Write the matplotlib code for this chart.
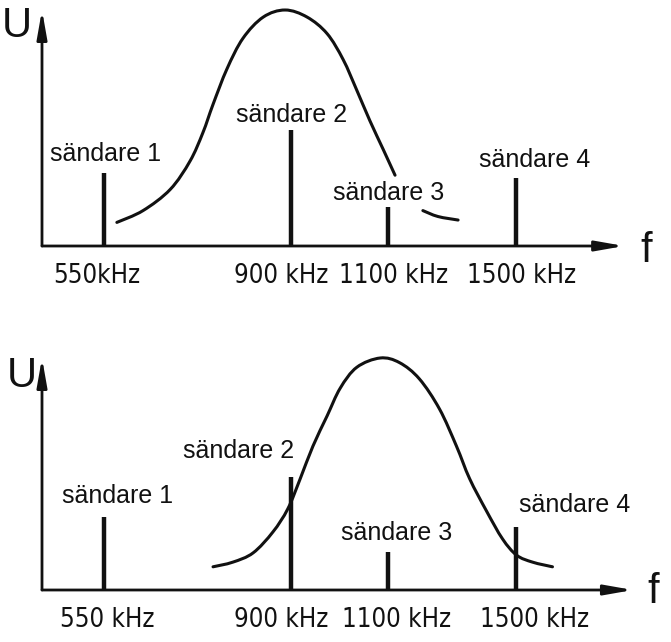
import numpy as np
import matplotlib
matplotlib.use("Agg")
import matplotlib.pyplot as plt
from matplotlib import font_manager
from matplotlib.path import Path
from matplotlib.patches import PathPatch

# ---------------- data ----------------
station_khz = [550, 900, 1100, 1500]
station_names = ["sändare 1", "sändare 2", "sändare 3", "sändare 4"]
tick_labels_top = ["550kHz", "900 kHz", "1100 kHz", "1500 kHz"]
tick_labels_bottom = ["550 kHz", "900 kHz", "1100 kHz", "1500 kHz"]

top_levels = [0.31, 0.49, 0.165, 0.29]
bottom_levels = [0.315, 0.485, 0.165, 0.27]

# receiver resonance curve, top panel (drawn in two pieces, gap at "sändare 3")
top_curve_a_khz = [575, 624, 675, 712, 736, 755, 781, 811, 849, 890, 934, 975, 1008, 1036, 1063, 1090, 1122]
top_curve_a_amp = [0.10, 0.15, 0.24, 0.36, 0.48, 0.60, 0.75, 0.88, 0.97, 1.00, 0.97, 0.90, 0.79, 0.66, 0.53, 0.41, 0.30]
top_curve_b_khz = [1209, 1256, 1319]
top_curve_b_amp = [0.15, 0.125, 0.11]

# receiver resonance curve, bottom panel
bottom_curve_khz = [755, 792, 830, 867, 895, 920, 946, 975, 1002, 1036, 1084,
                    1136, 1198, 1261, 1314, 1355, 1408, 1458, 1502, 1552, 1614]
bottom_curve_amp = [0.10, 0.12, 0.16, 0.25, 0.35, 0.48, 0.62, 0.75, 0.87, 0.96, 1.00,
                    0.98, 0.91, 0.78, 0.62, 0.48, 0.34, 0.22, 0.15, 0.12, 0.10]

# ---------------- layout / style ----------------
W, H = 671, 642
INK = "#111111"
fig = plt.figure(figsize=(W / 100, H / 100), dpi=100)
fig.patch.set_facecolor("white")

entries = font_manager.fontManager.ttflist
avail = {f.name for f in entries}
FONT = "Liberation Sans" if "Liberation Sans" in avail else "DejaVu Sans"
if "Liberation Sans Narrow" in avail:
    TICK_FONT = dict(family="Liberation Sans Narrow", fontsize=21)
elif any(f.name == "DejaVu Sans" and str(f.stretch) in ("condensed", "semi-condensed", "75", "87")
         for f in entries):
    TICK_FONT = dict(family="DejaVu Sans", fontstretch="condensed", fontsize=18.5)
else:
    TICK_FONT = dict(family=FONT, fontsize=19)

# schematic (non-linear) frequency axis: piecewise-linear scale
anchor_pos = [103.5, 290.5, 388.0, 516.0]


def piecewise(xp, fp):
    xp = np.asarray(xp, float)
    fp = np.asarray(fp, float)
    sl = (fp[1] - fp[0]) / (xp[1] - xp[0])
    sr = (fp[-1] - fp[-2]) / (xp[-1] - xp[-2])

    def f(x):
        x = np.asarray(x, float)
        y = np.interp(x, xp, fp)
        y = np.where(x < xp[0], fp[0] + (x - xp[0]) * sl, y)
        y = np.where(x > xp[-1], fp[-1] + (x - xp[-1]) * sr, y)
        return y
    return f


fwd = piecewise(station_khz, anchor_pos)
inv = piecewise(anchor_pos, station_khz)


def smooth_path(khz, amp):
    """Smooth Bezier path through the read points (Catmull-Rom control points)."""
    P = np.column_stack([fwd(np.asarray(khz, float)), np.asarray(amp, float)])
    n = len(P)
    verts = [P[0]]
    codes = [Path.MOVETO]
    for i in range(n - 1):
        p0 = P[i - 1] if i > 0 else P[i]
        p1, p2 = P[i], P[i + 1]
        p3 = P[i + 2] if i + 2 < n else P[i + 1]
        verts += [p1 + (p2 - p0) / 6.0, p2 - (p3 - p1) / 6.0, p2]
        codes += [Path.CURVE4] * 3
    verts = np.array(verts)
    verts[:, 0] = inv(verts[:, 0])
    return Path(verts, codes)


def px_axes(left, top, right, bottom):
    return fig.add_axes([left / W, 1 - bottom / H, (right - left) / W, (bottom - top) / H])


def draw_panel(ax, levels, curves, ticks, label_offsets, tick_offsets, x_arrow_end):
    ax.set_xscale("function", functions=(fwd, inv))
    ax.set_xlim(float(inv(42.0)), float(inv(630.0)))
    ax.set_ylim(0, 1)
    ax.axis("off")

    # axes with arrows
    ap = dict(arrowstyle="-|>,head_length=1.7,head_width=0.3", lw=2.0,
              color=INK, shrinkA=0, shrinkB=0)
    ax.annotate("", xy=(0, 1.0), xytext=(0, 0), xycoords="axes fraction", arrowprops=ap)
    ax.annotate("", xy=(x_arrow_end, 0), xytext=(0, 0), xycoords="axes fraction", arrowprops=ap)

    # station carriers
    ax.vlines(station_khz, 0, levels, colors=INK, lw=3.2)

    # resonance curve
    for cx, cy in curves:
        ax.add_patch(PathPatch(smooth_path(cx, cy), fill=False, edgecolor=INK, lw=2.2,
                               capstyle="round", joinstyle="round", clip_on=False))

    for khz, lvl, name, (dx, dy) in zip(station_khz, levels, station_names, label_offsets):
        ax.annotate(name, xy=(khz, lvl), xytext=(dx, dy), textcoords="offset pixels",
                    ha="center", va="baseline", fontsize=18, family=FONT, color=INK)

    for khz, lbl, dx in zip(station_khz, ticks, tick_offsets):
        ax.annotate(lbl, xy=(khz, 0), xytext=(dx, -37), textcoords="offset pixels",
                    ha="center", va="baseline", color=INK, **TICK_FONT)


ax_top = px_axes(42, 10, 630, 246)
draw_panel(ax_top, top_levels,
           [(top_curve_a_khz, top_curve_a_amp), (top_curve_b_khz, top_curve_b_amp)],
           tick_labels_top,
           [(2.5, 12), (1.5, 8), (1, 7), (19, 11)],
           [-6.5, -9.5, 6, 6], 0.99)

ax_bot = px_axes(42, 358, 630, 590)
draw_panel(ax_bot, bottom_levels,
           [(bottom_curve_khz, bottom_curve_amp)],
           tick_labels_bottom,
           [(14.5, 14), (-51.5, 19), (9, 12), (59, 15)],
           [3.5, -9.5, 9, 19], 1.005)

# axis names
for (x, y, s) in [(17, 26, "U"), (646, 251, "f"), (22, 376, "U"), (653, 592, "f")]:
    fig.text(x / W, 1 - y / H, s, ha="center", va="center", fontsize=30,
             family=FONT, color=INK)

fig.savefig("out.png", dpi=100, facecolor="white")
